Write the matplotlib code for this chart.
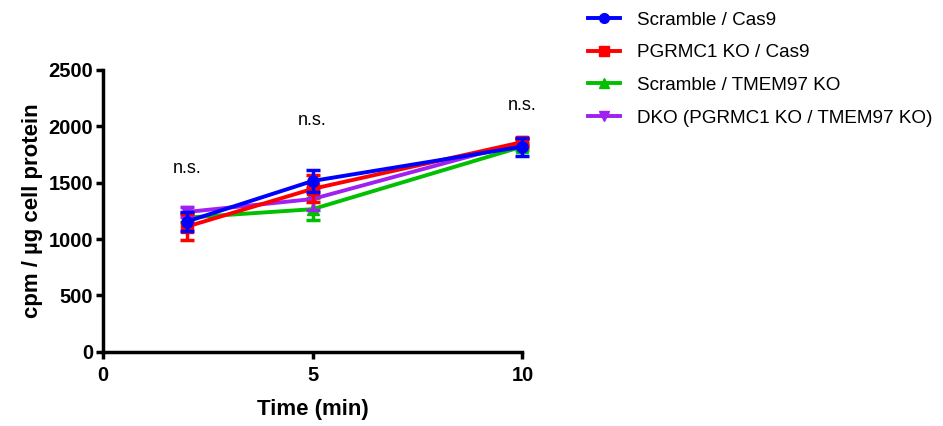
import numpy as np
import matplotlib
matplotlib.use("Agg")
import matplotlib.pyplot as plt
from matplotlib.lines import Line2D

plt.rcParams['font.family'] = ['Liberation Sans', 'DejaVu Sans']

# time points (min)
time = [2, 5, 10]

# mean values and SEM
scr_cas9 = [1155, 1515, 1820]
scr_cas9_err = [85, 95, 80]
pg_cas9 = [1110, 1445, 1860]
pg_cas9_err = [115, 120, 40]
scr_tm = [1190, 1265, 1820]
scr_tm_err = [40, 100, 30]
dko = [1240, 1355, 1860]
dko_err = [40, 100, 30]

labels = ['Scramble / Cas9', 'PGRMC1 KO / Cas9', 'Scramble / TMEM97 KO',
          'DKO (PGRMC1 KO / TMEM97 KO)']

ns_x = [2, 5, 10]
ns_y = [1630, 2055, 2180]

fig = plt.figure(figsize=(9.43, 4.26), dpi=100)
ax = fig.add_axes([0.109, 0.174, 0.445, 0.662])

series = [
    (scr_cas9, scr_cas9_err, '#0000FF', 'o', 5),
    (pg_cas9, pg_cas9_err, '#FF0000', 's', 4),
    (scr_tm, scr_tm_err, '#00C000', '^', 2),
    (dko, dko_err, '#A020F0', 'v', 3),
]
handles = []
for (y, e, c, m, z), lab in zip(series, labels):
    ax.errorbar(time, y, yerr=e, color=c, marker=m, markersize=8,
                linewidth=2.8, elinewidth=2.5, capsize=5, capthick=2.5,
                zorder=z, clip_on=False)
    handles.append(Line2D([], [], color=c, marker=m, markersize=7, linewidth=2.8))

for x, y in zip(ns_x, ns_y):
    ax.text(x, y, 'n.s.', ha='center', va='center', fontsize=13)

ax.set_xlim(0, 10)
ax.set_ylim(0, 2500)
ax.set_xticks([0, 5, 10])
ax.set_yticks([0, 500, 1000, 1500, 2000, 2500])
ax.spines['top'].set_visible(False)
ax.spines['right'].set_visible(False)
for s in ['left', 'bottom']:
    ax.spines[s].set_linewidth(2.5)
ax.tick_params(width=2.5, length=5, labelsize=14.5, pad=2)
ax.tick_params(axis='x', pad=5)
for lab in ax.get_xticklabels() + ax.get_yticklabels():
    lab.set_fontweight('bold')

ax.set_xlabel('Time (min)', fontsize=16, fontweight='bold', labelpad=10)
ax.set_ylabel('cpm / µg cell protein', fontsize=16, fontweight='bold', labelpad=4)

fig.legend(handles=handles, labels=labels, loc='upper left',
           bbox_to_anchor=(0.612, 1.0), frameon=False, fontsize=13.6,
           handlelength=1.65, handletextpad=0.9, labelspacing=0.82,
           borderaxespad=0.2)

fig.savefig('out.png', dpi=100)
